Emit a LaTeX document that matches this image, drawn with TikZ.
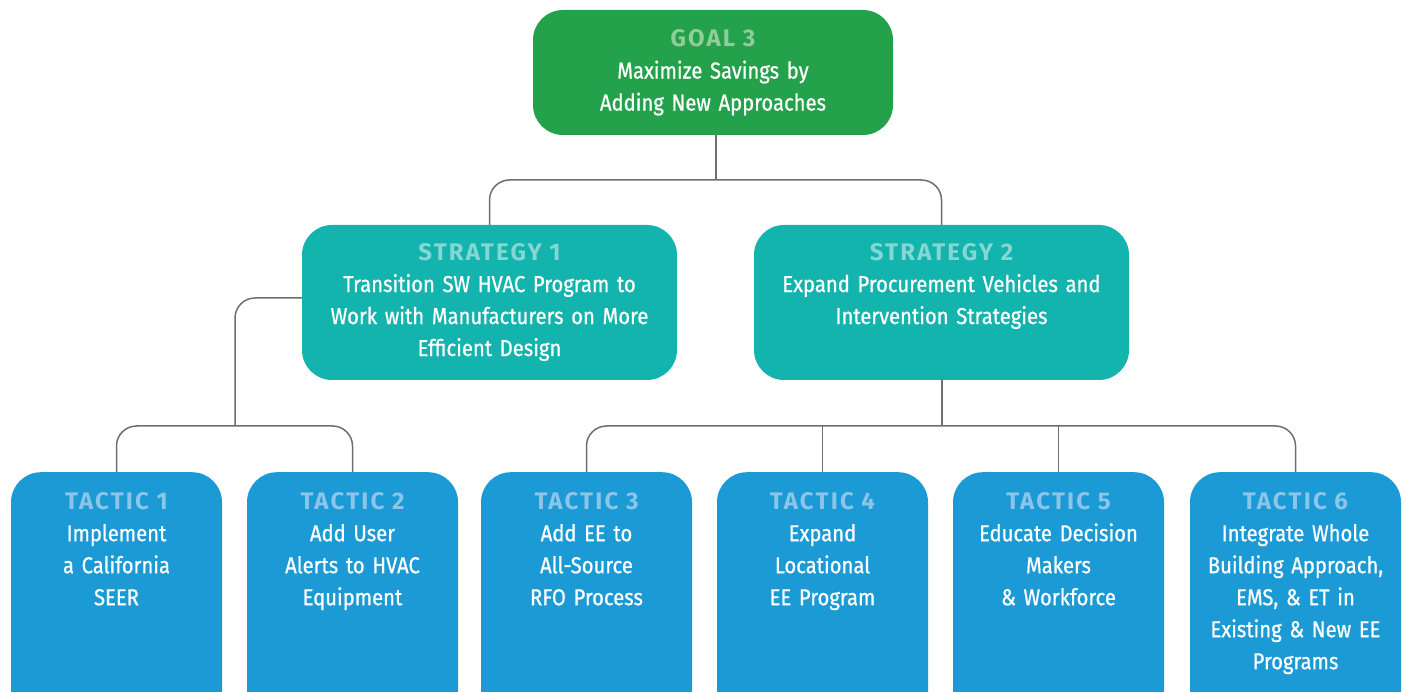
\documentclass[tikz,border=0pt]{standalone}
\usepackage{fontspec}
\setmainfont{Fira Sans}[FakeStretch=0.88, FakeBold=0.7]
\newfontfamily\headfont{Fira Sans}[LetterSpace=9]
\usetikzlibrary{positioning}
\definecolor{goalgreen}{HTML}{24A24B}
\definecolor{goalhead}{HTML}{8FCD9C}
\definecolor{stratteal}{HTML}{13B3AE}
\definecolor{strathead}{HTML}{86D6D3}
\definecolor{tacblue}{HTML}{1B9AD6}
\definecolor{tachead}{HTML}{8CC5EA}
\definecolor{linegray}{HTML}{6D6E71}
\newcommand{\hd}[2]{{\headfont\fontsize{24}{32}\selectfont\bfseries\color{#1}#2}}

\begin{document}
\begin{tikzpicture}[x=1pt, y=-1pt,
  box/.style={rounded corners=30pt, inner sep=0pt, align=center, text=white,
    font=\fontsize{23}{32}\selectfont},
  goalbox/.style={box, fill=goalgreen, minimum width=360pt, minimum height=125pt, text width=340pt},
  stratbox/.style={box, fill=stratteal, minimum width=375pt, minimum height=155pt},
  tacbox/.style={box, fill=tacblue, minimum width=211pt, minimum height=250pt, anchor=north},
  boxtext/.style={inner sep=0pt, align=center, text=white, text width=#1,
    font=\fontsize{23}{32}\selectfont},
  link/.style={draw=linegray, line width=1.5pt, rounded corners=20pt}]
  \path[use as bounding box, clip] (0,0) rectangle (1406,692);
  % goal
  \node[goalbox] (goal) at (713,72.5) {\hd{goalhead}{GOAL 3}\\
    Maximize Savings by\\ Adding New Approaches};
  % strategies
  \node[stratbox] (str1) at (489.5,302.5) {};
  \node[stratbox] (str2) at (941.5,302.5) {};
  \node[boxtext=365pt, below=18pt of str1.north] (stxt1) {\hd{strathead}{STRATEGY 1}\\
    Transition SW HVAC Program to\\ Work with Manufacturers on More\\ Efficient Design};
  \node[boxtext=365pt, below=18pt of str2.north] (stxt2) {\hd{strathead}{STRATEGY 2}\\
    Expand Procurement Vehicles and\\ Intervention Strategies};
  % tactics
  \node[tacbox] (tac1) at (116.5,472) {};
  \node[tacbox] (tac2) at (352.5,472) {};
  \node[tacbox] (tac3) at (586.5,472) {};
  \node[tacbox] (tac4) at (822.5,472) {};
  \node[tacbox] (tac5) at (1058.5,472) {};
  \node[tacbox] (tac6) at (1295.5,472) {};
  \node[boxtext=205pt, below=20pt of tac1.north] (txt1) {\hd{tachead}{TACTIC 1}\\
    Implement\\ a California\\ SEER};
  \node[boxtext=205pt, below=20pt of tac2.north] (txt2) {\hd{tachead}{TACTIC 2}\\
    Add User\\ Alerts to HVAC\\ Equipment};
  \node[boxtext=205pt, below=20pt of tac3.north] (txt3) {\hd{tachead}{TACTIC 3}\\
    Add EE to\\ All-Source\\ RFO Process};
  \node[boxtext=205pt, below=20pt of tac4.north] (txt4) {\hd{tachead}{TACTIC 4}\\
    Expand\\ Locational\\ EE Program};
  \node[boxtext=205pt, below=20pt of tac5.north] (txt5) {\hd{tachead}{TACTIC 5}\\
    Educate Decision\\ Makers\\ \& Workforce};
  \node[boxtext=205pt, below=20pt of tac6.north] (txt6) {\hd{tachead}{TACTIC 6}\\
    Integrate Whole\\ Building Approach,\\ EMS, \& ET in\\ Existing \& New EE\\ Programs};
  % connectors
  \coordinate (gj) at (716,180);
  \coordinate (j1) at (235,426);
  \coordinate (j2) at (942,426);
  \draw[link] (goal.south -| gj) -- (gj);
  \draw[link] (str1.north) |- (gj) -| (str2.north);
  \draw[link] ([yshift=4.5pt]str1.west) -| (j1);
  \draw[link] (tac1.north) |- (j1) -| (tac2.north);
  \draw[link] (str2.south -| j2) -- (j2);
  \draw[link] (tac3.north) |- (j2) -| (tac6.north);
  \draw[link] (tac4.north) -- (tac4.north |- j2);
  \draw[link] (tac5.north) -- (tac5.north |- j2);
\end{tikzpicture}
\end{document}
